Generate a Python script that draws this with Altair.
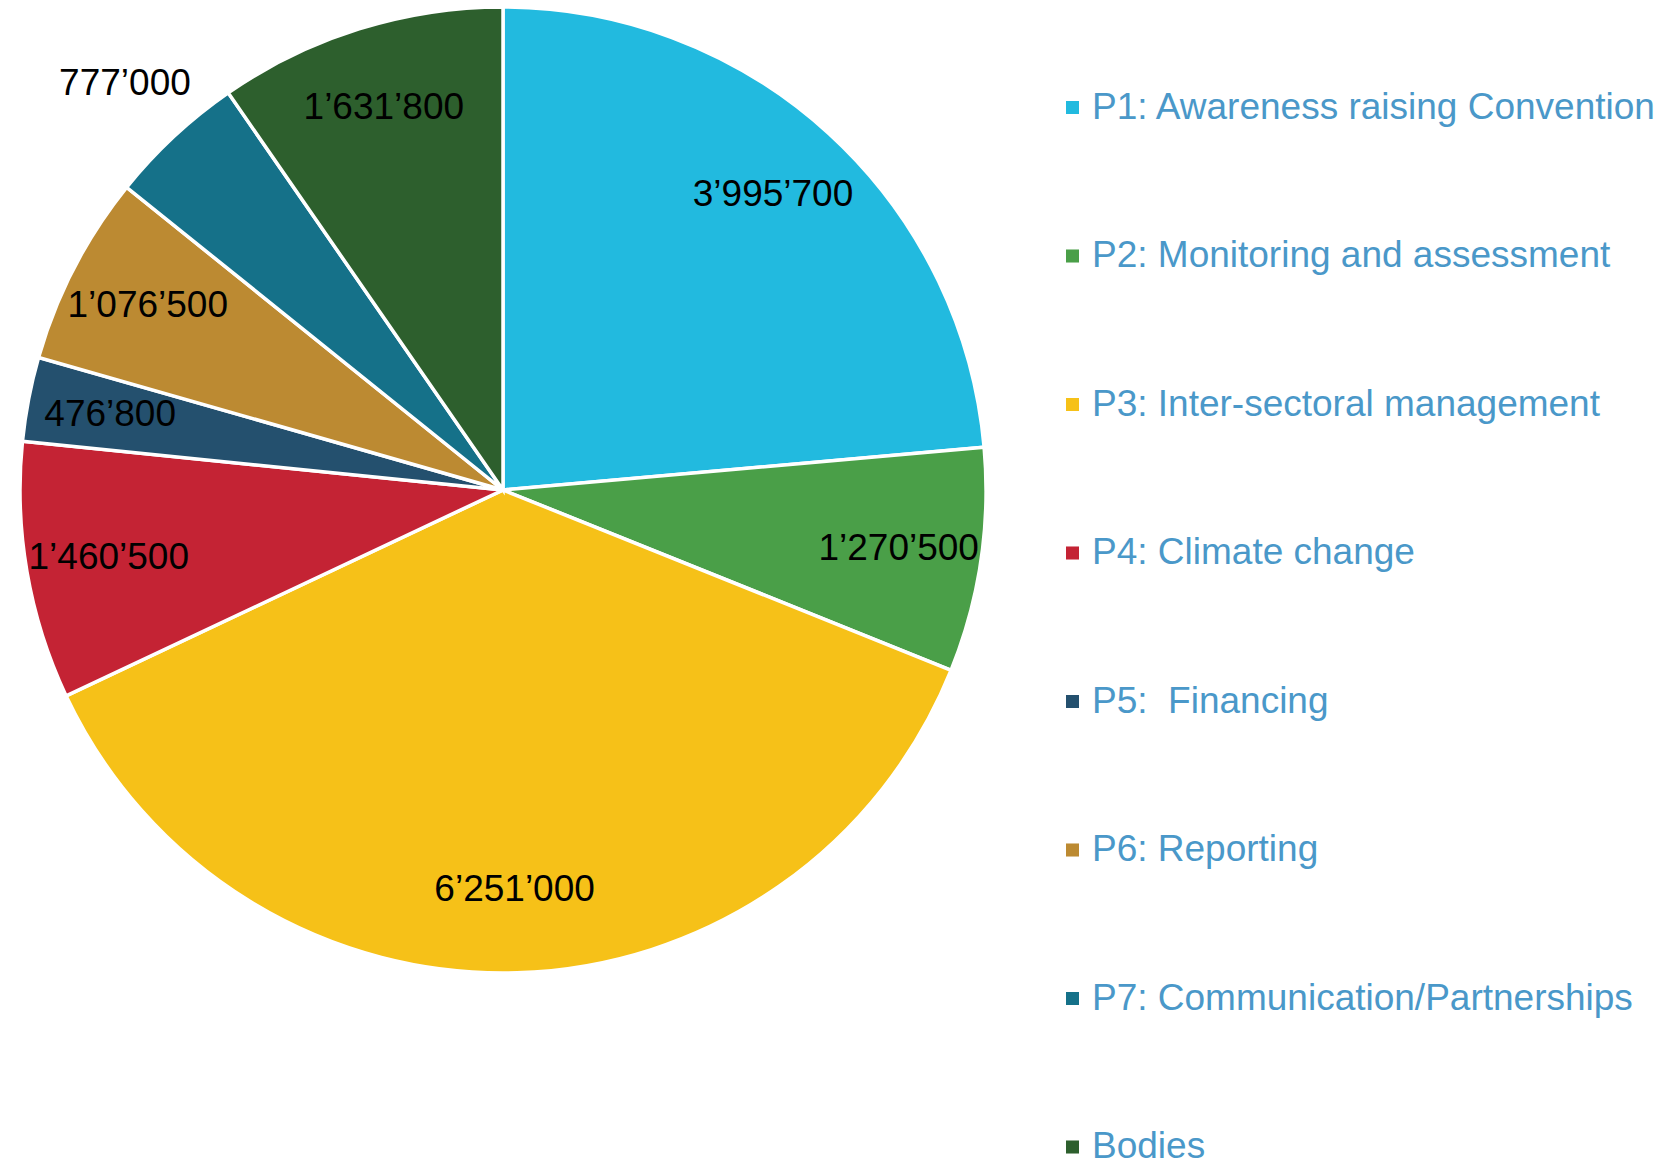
import altair as alt
import pandas as pd

categories = [
    "P1: Awareness raising Convention",
    "P2: Monitoring and assessment",
    "P3: Inter-sectoral management",
    "P4: Climate change",
    "P5:\u00a0 Financing",
    "P6: Reporting",
    "P7: Communication/Partnerships",
    "Bodies",
]
values = [3995700, 1270500, 6251000, 1460500, 476800, 1076500, 777000, 1631800]
colors = ["#22BADF", "#4A9F48", "#F6C118", "#C42334", "#24506E", "#BC8A32", "#157189", "#2D5F2D"]
outside = [False, False, False, False, False, False, True, False]

df = pd.DataFrame({
    "category": categories,
    "value": values,
    "order": list(range(len(categories))),
    "label": [f"{v:,}".replace(",", "\u2019") for v in values],
    "outside": outside,
})

CX, CY, R = 495, 482, 483

arcs = alt.Chart(df).mark_arc(outerRadius=R, stroke="white", strokeWidth=3.5).encode(
    theta=alt.Theta("value:Q", stack=True),
    order=alt.Order("order:Q"),
    x=alt.value(CX),
    y=alt.value(CY),
    color=alt.Color(
        "category:N",
        scale=alt.Scale(domain=categories, range=colors),
        sort=categories,
        legend=alt.Legend(
            title=None,
            orient="none",
            legendX=1046,
            legendY=81,
            symbolType="square",
            symbolSize=170,
            symbolStrokeWidth=0,
            symbolOpacity=1,
            labelFont="Liberation Sans",
            labelFontSize=37,
            labelColor="#4A98C9",
            labelLimit=1000,
            labelOffset=1,
            rowPadding=110.5,
            padding=0,
        ),
    ),
)

labels = alt.Chart(df).transform_window(
    cum="sum(value)", sort=[alt.SortField("order")], frame=[None, 0]
).transform_calculate(
    mid="datum.cum - datum.value / 2",
    r="datum.outside ? 555 : 400",
).mark_text(
    font="Liberation Sans", fontSize=37, color="black", align="center", baseline="middle"
).encode(
    theta=alt.Theta("mid:Q", stack=None),
    radius=alt.Radius("r:Q", scale=None),
    x=alt.value(CX),
    y=alt.value(CY),
    text="label:N",
)

chart = alt.layer(arcs, labels).properties(
    width=1650,
    height=1150,
    autosize=alt.AutoSizeParams(type="none"),
    padding=0,
).configure_view(stroke=None)

chart.save("out.html", embed_options={"renderer": "svg", "actions": False})
